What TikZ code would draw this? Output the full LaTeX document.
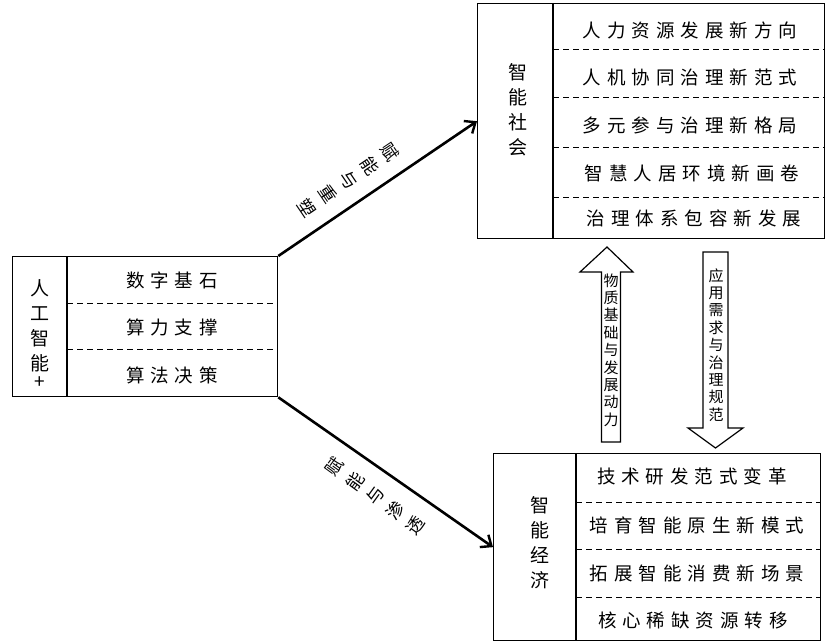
\documentclass[tikz,border=0pt]{standalone}
\usepackage{fontspec}
\setmainfont{Noto Sans CJK SC}
\usetikzlibrary{arrows.meta}
\newdimen\gapdim
\def\spc#1#2{\gapdim=#1\relax\spcB#2\relax}
\def\spcB#1#2{#1\ifx\relax#2\else\hskip\gapdim\expandafter\spcB\expandafter#2\fi}
\tikzset{
  box/.style={draw, line width=1.3pt, anchor=north west, inner sep=0pt},
  divline/.style={line width=1.3pt},
  dashline/.style={line width=1pt, dash pattern=on 6pt off 4pt},
  rowtext/.style={font=\fontsize{18.5}{20}\selectfont, inner sep=0pt},
  vtext/.style={font=\fontsize{19}{25}\selectfont, align=center, inner sep=0pt},
  lbl/.style={font=\fontsize{17.5}{25}\selectfont, align=center, inner sep=0pt},
  btext/.style={font=\fontsize{15}{17.4}\selectfont, align=center, inner sep=0pt},
  conn/.style={line width=2.6pt, -{Straight Barb[length=9pt,width=15pt,line width=2.4pt]}},
  blockarrow/.style={draw, line width=1.2pt, fill=white, line join=miter}
}
\begin{document}
\begin{tikzpicture}[x=1pt,y=-1pt]
\useasboundingbox (0,0) rectangle (828,642);
% boxes
\node[box, minimum width=265pt, minimum height=140pt] (L) at (12,256) {};
\node[box, minimum width=347pt, minimum height=235pt] (T) at (477,3) {};
\node[box, minimum width=327pt, minimum height=187pt] (B) at (493,453) {};
% left box inner lines
\draw[divline] (67,256) -- (67,396);
\draw[dashline] (67,303) -- (277,303);
\draw[dashline] (67,349) -- (277,349);
\node[vtext] (Lt) at (40,334) {人\\工\\智\\能\\[-7pt]+};
\node[rowtext] (L1) at (172,280) {\spc{6pt}{数字基石}};
\node[rowtext] (L2) at (172,327) {\spc{6pt}{算力支撑}};
\node[rowtext] (L3) at (172,375) {\spc{6pt}{算法决策}};
% top box inner lines
\draw[divline] (553,3) -- (553,238);
\draw[dashline] (553,50) -- (824,50);
\draw[dashline] (553,98) -- (824,98);
\draw[dashline] (553,147) -- (824,147);
\draw[dashline] (553,197) -- (824,197);
\node[vtext] (Tt) at (518,110) {智\\能\\社\\会};
\node[rowtext] (T1) at (690,30) {\spc{6pt}{人力资源发展新方向}};
\node[rowtext] (T2) at (690,77) {\spc{6pt}{人机协同治理新范式}};
\node[rowtext] (T3) at (690,125) {\spc{6pt}{多元参与治理新格局}};
\node[rowtext] (T4) at (692,173) {\spc{6pt}{智慧人居环境新画卷}};
\node[rowtext] (T5) at (694,218) {\spc{6pt}{治理体系包容新发展}};
% bottom box inner lines
\draw[divline] (576,453) -- (576,640);
\draw[dashline] (576,502) -- (820,502);
\draw[dashline] (576,549) -- (820,549);
\draw[dashline] (576,597) -- (820,597);
\node[vtext] (Bt) at (540,543) {智\\能\\经\\济};
\node[rowtext] (B1) at (692,476) {\spc{6pt}{技术研发范式变革}};
\node[rowtext] (B2) at (697,525) {\spc{6pt}{培育智能原生新模式}};
\node[rowtext] (B3) at (697,573) {\spc{6pt}{拓展智能消费新场景}};
\node[rowtext] (B4) at (693,620) {\spc{6pt}{核心稀缺资源转移}};
% connectors
\draw[conn] (L.north east) -- (T.west);
\draw[conn] (L.south east) -- (B.west);
\node[lbl, rotate=-56] (u) at (349,180) {赋\\能\\与\\重\\塑};
\node[lbl, rotate=54] (d) at (375,496) {赋\\能\\与\\渗\\透};
% block arrows
\draw[blockarrow] (601.5,442) -- (601.5,272) -- (580,272) -- (607,247) -- (633,272) -- (620.5,272) -- (620.5,442) -- cycle;
\node[btext] (ua) at (611,350) {物\\质\\基\\础\\与\\发\\展\\动\\力};
\draw[blockarrow] (703,252) -- (703,428) -- (688,428) -- (715.5,448) -- (743,428) -- (728,428) -- (728,252) -- cycle;
\node[btext] (da) at (716,345) {应\\用\\需\\求\\与\\治\\理\\规\\范};
\end{tikzpicture}
\end{document}
